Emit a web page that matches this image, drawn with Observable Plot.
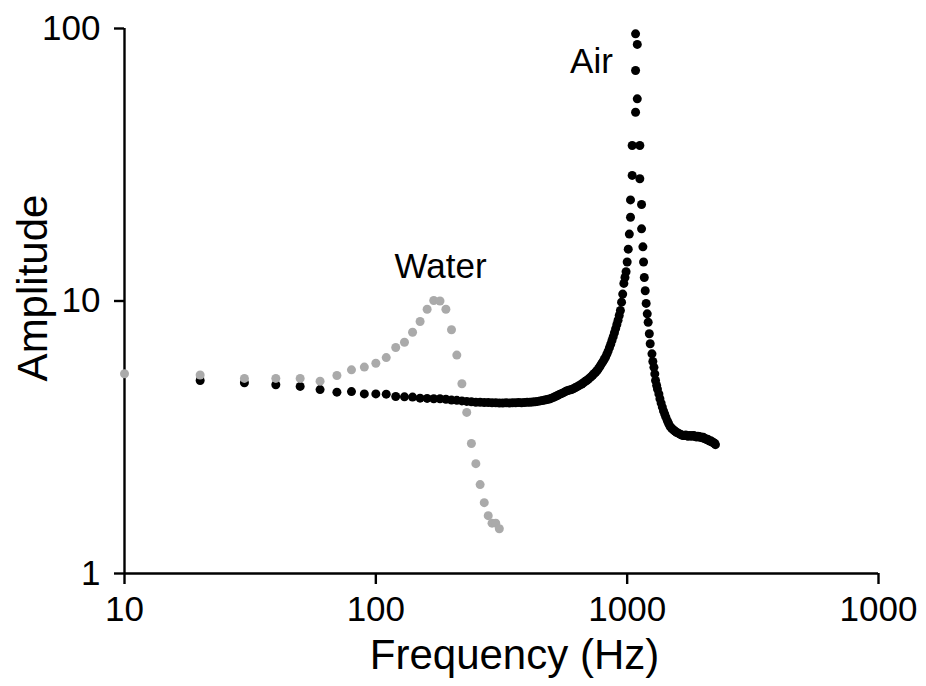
<!DOCTYPE html>
<html>
<head>
<meta charset="utf-8">
<script src="https://cdn.jsdelivr.net/npm/d3@7"></script>
<script src="https://cdn.jsdelivr.net/npm/@observablehq/plot@0.6"></script>
<style>
  html, body { margin: 0; padding: 0; background: #ffffff; }
  #chart { width: 926px; height: 686px; }
</style>
</head>
<body>
<div id="chart"></div>
<script>
// ---- data ----
const waterFreq = [10, 20, 30, 40, 50, 60, 70, 80, 90, 100, 110, 120, 130, 140, 150, 160, 170, 180, 190, 200, 210, 220, 230, 240, 250, 260, 270, 280, 290, 300, 310];
const waterAmp  = [5.41, 5.35, 5.2, 5.2, 5.2, 5.08, 5.33, 5.59, 5.72, 5.91, 6.2, 6.75, 7.06, 7.68, 8.41, 9.33, 10.04, 10.0, 9.33, 7.84, 6.33, 4.97, 3.90, 3.00, 2.53, 2.12, 1.82, 1.63, 1.53, 1.53, 1.46];

const airFreq = [
  20, 30, 40, 50, 60, 70, 80, 90, 100, 110, 120, 130, 140, 150, 160, 170, 180, 190, 200,
  210, 220, 230, 240, 250, 260, 270, 280, 290, 300, 310, 320, 330, 340, 350, 360, 370, 380, 390, 400,
  410, 420, 430, 440, 450, 460, 470, 480, 490, 500, 510, 520, 530, 540, 550, 560, 570, 580, 590, 600,
  610, 620, 630, 640, 650, 660, 670, 680, 690, 700, 710, 720, 730, 740, 750, 760, 770, 780, 790, 800,
  810, 820, 830, 840, 850, 860, 870, 880, 890, 900, 910, 920, 930, 940, 950, 960, 970, 980, 990, 1000,
  1010, 1020, 1031, 1031, 1047, 1047, 1080, 1080, 1080, 1097, 1097, 1123, 1123, 1141, 1141,
  1155, 1162, 1170, 1180, 1190, 1202, 1212, 1225, 1235, 1255, 1265, 1278, 1288, 1297, 1310, 1320, 1337,
  1350, 1365, 1380, 1395, 1410, 1425, 1444, 1460, 1480, 1500, 1520, 1535,
  1550, 1570, 1590, 1610, 1630, 1650, 1670, 1690, 1710, 1730, 1750, 1770, 1790, 1810, 1830, 1850,
  1870, 1890, 1910, 1930, 1950, 1970, 1990, 2010, 2030, 2050, 2070, 2090, 2110, 2130, 2150, 2170,
  2190, 2210, 2230, 2245
];
const airAmp = [
  5.11, 5.01, 4.93, 4.86, 4.73, 4.63, 4.65, 4.56, 4.56, 4.55, 4.46, 4.45, 4.44, 4.40, 4.39, 4.38, 4.38, 4.36, 4.33,
  4.32, 4.30, 4.28, 4.27, 4.25, 4.25, 4.24, 4.24, 4.23, 4.23, 4.22, 4.22, 4.23, 4.22, 4.23, 4.23, 4.24, 4.23, 4.24, 4.25,
  4.25, 4.26, 4.27, 4.28, 4.30, 4.31, 4.33, 4.35, 4.37, 4.40, 4.43, 4.47, 4.51, 4.55, 4.58, 4.62, 4.66, 4.69, 4.71, 4.73,
  4.76, 4.80, 4.84, 4.88, 4.92, 4.96, 5.01, 5.06, 5.11, 5.16, 5.22, 5.28, 5.35, 5.42, 5.49, 5.56, 5.66, 5.76, 5.88, 5.98,
  6.10, 6.22, 6.38, 6.55, 6.74, 6.94, 7.16, 7.40, 7.65, 7.92, 8.20, 8.50, 8.85, 9.23, 9.90, 10.6, 11.6, 12.2, 12.8, 13.9,
  15.5, 17.6, 20.3, 23.5, 28.9, 37.2, 49.3, 70.1, 95.6, 87.4, 55.2, 37.2, 28.1, 22.6, 18.4,
  15.8, 13.9, 12.2, 10.9, 9.8, 8.97, 8.36, 7.58, 6.97, 6.40, 6.0, 5.71, 5.40, 5.11, 4.90, 4.75, 4.56,
  4.38, 4.22, 4.08, 3.95, 3.85, 3.75, 3.64, 3.56, 3.47, 3.42, 3.38, 3.35,
  3.33, 3.30, 3.28, 3.26, 3.24, 3.22, 3.21, 3.21, 3.22, 3.20, 3.19, 3.21, 3.20, 3.19, 3.21, 3.20,
  3.18, 3.17, 3.19, 3.18, 3.16, 3.17, 3.15, 3.16, 3.13, 3.12, 3.10, 3.11, 3.08, 3.06, 3.07, 3.04,
  3.03, 3.02, 3.00, 2.97
];

const xTicks = [10, 100, 1000, 10000];
const xTickLabels = ["10", "100", "1000", "1000"];
const yTicks = [1, 10, 100];
const yTickLabels = ["1", "10", "100"];

const annoText = ["Water", "Air"];
const annoFreq = [181, 721];
const annoAmp = [13.3, 75.6];

// ---- build tables ----
const water = waterFreq.map((f, i) => ({f, a: waterAmp[i]}));
const air = airFreq.map((f, i) => ({f, a: airAmp[i]}));
const annos = annoText.map((t, i) => ({t, f: annoFreq[i], a: annoAmp[i]}));
const xLab = new Map(xTicks.map((t, i) => [t, xTickLabels[i]]));
const yLab = new Map(yTicks.map((t, i) => [t, yTickLabels[i]]));

const font = "'Liberation Sans', Arial, Helvetica, sans-serif";

const chart = Plot.plot({
  width: 926,
  height: 686,
  marginLeft: 124,
  marginRight: 48,
  marginTop: 28,
  marginBottom: 113,
  style: {fontFamily: font, background: "#ffffff", color: "#000000", overflow: "visible"},
  x: {type: "log", domain: [10, 10000]},
  y: {type: "log", domain: [1, 100]},
  marks: [
    Plot.ruleX([10], {y1: 1, y2: 100, stroke: "#000", strokeWidth: 2.4}),
    Plot.ruleY([1], {x1: 10, x2: 10000, stroke: "#000", strokeWidth: 2.4}),
    Plot.axisX({ticks: xTicks, tickFormat: d => xLab.get(d), tickSize: 11, tickPadding: 12,
      fontSize: 35, strokeWidth: 2.4, label: null}),
    Plot.axisY({ticks: yTicks, tickFormat: d => yLab.get(d), tickSize: 10, tickPadding: 14,
      fontSize: 35, strokeWidth: 2.4, label: null}),
    Plot.dot(air, {x: "f", y: "a", r: 4.5, fill: "#000000", stroke: "none"}),
    Plot.dot(water, {x: "f", y: "a", r: 4.5, fill: "#aaaaaa", stroke: "none"}),
    Plot.text(annos, {x: "f", y: "a", text: "t", fontSize: 35, fill: "#000", textAnchor: "middle", lineAnchor: "middle"}),
    Plot.text(["Frequency (Hz)"], {frameAnchor: "bottom", dx: 13, dy: 82, fontSize: 42, fill: "#000", textAnchor: "middle", lineAnchor: "middle"}),
    Plot.text(["Amplitude"], {frameAnchor: "left", rotate: -90, dx: -91, dy: -13, fontSize: 42, fill: "#000", textAnchor: "middle", lineAnchor: "middle"})
  ]
});
document.getElementById("chart").appendChild(chart);
</script>
</body>
</html>
